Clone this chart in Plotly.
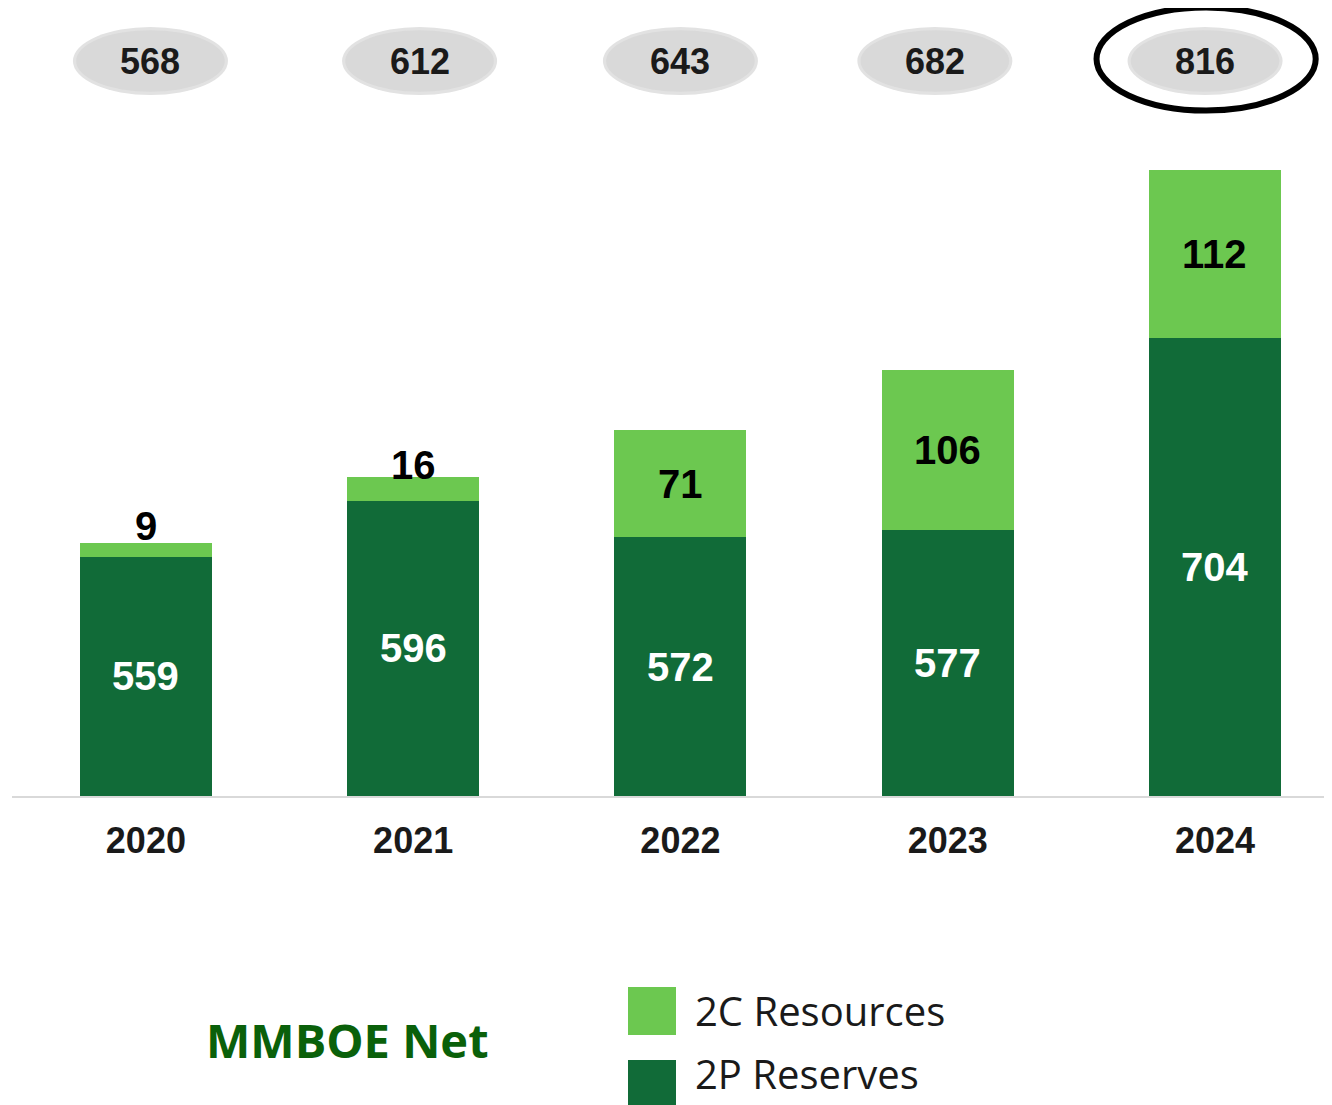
import plotly.graph_objects as go

years = ['2020', '2021', '2022', '2023', '2024']
reserves_2p = [559, 596, 572, 577, 704]
resources_2c = [9, 16, 71, 106, 112]
totals = [568, 612, 643, 682, 816]

DARK_GREEN = '#116B38'
LIGHT_GREEN = '#6CC850'
Y_START = 400
Y_END = 923.4
BOLD_FONT = 'Liberation Sans, Arial, sans-serif'

# the page body adds an 8px margin, so the figure itself is 8px smaller
FIG_W = 1324
FIG_H = 1097
PLOT_LEFT = 12      # screen px
PLOT_W = 1320
BASELINE = 796      # screen px
PLOT_H = 788

# the ovals in the original are hand placed, not exactly over the bars
OVAL_NUDGE = [0.017, 0.024, 0.0, -0.048, -0.037]


def px(x_screen):
    return (x_screen - PLOT_LEFT) / PLOT_W


def py(y_screen):
    return (BASELINE - y_screen) / PLOT_H


x_pos = list(range(len(years)))

fig = go.Figure(
    data=[
        go.Bar(
            x=x_pos,
            y=reserves_2p,
            name='2P Reserves',
            marker=dict(color=DARK_GREEN, line=dict(width=0)),
            width=0.494,
            hoverinfo='y'
        ),
        go.Bar(
            x=x_pos,
            y=resources_2c,
            name='2C Resources',
            marker=dict(color=LIGHT_GREEN, line=dict(width=0)),
            width=0.494,
            hoverinfo='y'
        )
    ]
)

# value labels inside / above the segments
for i in x_pos:
    fig.add_annotation(
        x=i, y=(Y_START + reserves_2p[i]) / 2,
        text=str(reserves_2p[i]), showarrow=False, yanchor='middle',
        font=dict(family=BOLD_FONT, size=40, color='white', weight='bold')
    )
    small = resources_2c[i] < 30
    fig.add_annotation(
        x=i, y=reserves_2p[i] + resources_2c[i] / 2,
        yshift=24 if small else 0,
        text=str(resources_2c[i]), showarrow=False, yanchor='middle',
        font=dict(family=BOLD_FONT, size=40, color='black', weight='bold')
    )

# totals in grey ovals along the top
oval_y = py(61)
for i in x_pos:
    cx = i + OVAL_NUDGE[i]
    fig.add_shape(
        type='circle', xref='x', yref='paper',
        x0=cx - 0.29, x1=cx + 0.29, y0=oval_y - 0.0431, y1=oval_y + 0.0431,
        fillcolor='#E2E2E2', line=dict(width=0), layer='below'
    )
    fig.add_shape(
        type='circle', xref='x', yref='paper',
        x0=cx - 0.278, x1=cx + 0.278, y0=oval_y - 0.039, y1=oval_y + 0.039,
        fillcolor='#D9D9D9', line=dict(width=0), layer='below'
    )
    fig.add_annotation(
        x=cx, y=oval_y, yref='paper', yanchor='middle',
        text=str(totals[i]), showarrow=False,
        font=dict(family=BOLD_FONT, size=36, color='#1A1A1A', weight='bold')
    )

# highlight ring on the latest year
last = x_pos[-1]
ring_y = py(59)
fig.add_shape(
    type='circle', xref='x', yref='paper',
    x0=last - 0.443, x1=last + 0.377, y0=ring_y - 0.0655, y1=ring_y + 0.0655,
    line=dict(color='black', width=6)
)

# custom legend and unit label
legend_items = [('2C Resources', LIGHT_GREEN, 987, 1010),
                ('2P Reserves', DARK_GREEN, 1060, 1073)]
for label, colour, box_top, text_mid in legend_items:
    fig.add_shape(
        type='rect', xref='paper', yref='paper',
        x0=px(628), x1=px(676),
        y0=py(box_top + 48), y1=py(box_top),
        fillcolor=colour, line=dict(width=0)
    )
    fig.add_annotation(
        xref='paper', yref='paper',
        x=px(693), y=py(text_mid),
        xanchor='left', yanchor='middle',
        text=label, showarrow=False,
        font=dict(family='Open Sans, sans-serif', size=40, color='#1A1A1A')
    )

fig.add_annotation(
    xref='paper', yref='paper',
    x=px(347), y=py(1040),
    xanchor='center', yanchor='middle',
    text='MMBOE Net', showarrow=False,
    font=dict(family='Open Sans, sans-serif', size=47, color='#0A600A', weight='bold')
)

fig.update_layout(
    barmode='stack',
    width=FIG_W,
    height=FIG_H,
    margin=dict(l=PLOT_LEFT - 8, r=0, t=0, b=FIG_H - PLOT_H),
    paper_bgcolor='white',
    plot_bgcolor='white',
    showlegend=False,
    bargap=0.5
)

fig.update_xaxes(
    tickvals=x_pos,
    ticktext=years,
    range=[-0.501, 4.438],
    showline=True,
    linecolor='#D9D9D9',
    linewidth=2,
    showgrid=False,
    zeroline=False,
    ticks='',
    ticklabelstandoff=12,
    tickfont=dict(family=BOLD_FONT, size=36, color='#1A1A1A', weight='bold')
)

fig.update_yaxes(
    range=[Y_START, Y_END],
    visible=False,
    showgrid=False,
    zeroline=False
)

fig.write_html("out.html")
